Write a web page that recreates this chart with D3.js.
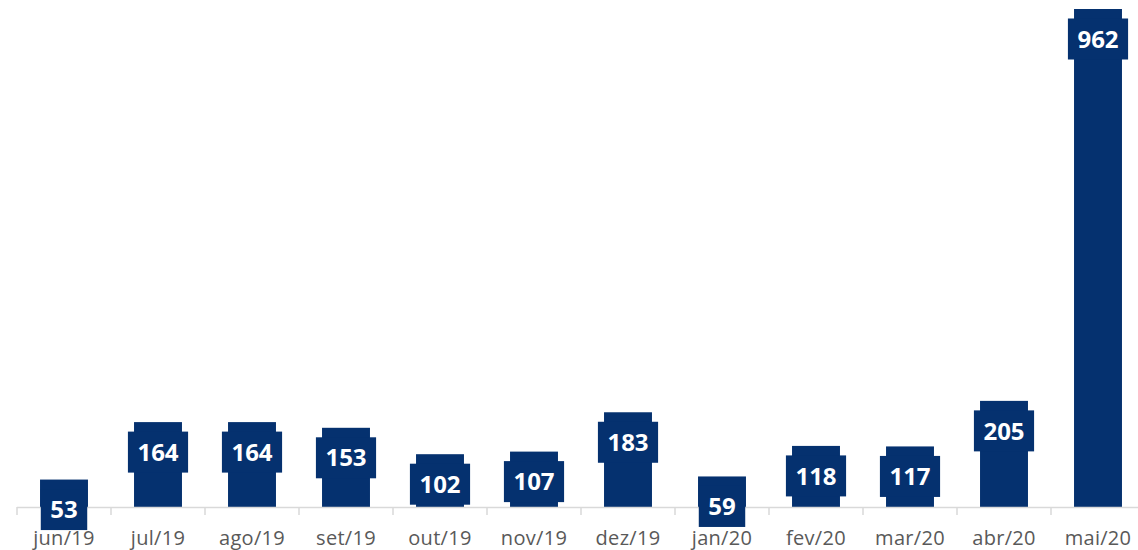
<!DOCTYPE html>
<html><head><meta charset="utf-8">
<script src="https://cdn.jsdelivr.net/npm/d3@7"></script>
<style>body{margin:0;background:#fff}svg{display:block}</style>
</head><body>
<script>
const categories = ["jun/19","jul/19","ago/19","set/19","out/19","nov/19","dez/19","jan/20","fev/20","mar/20","abr/20","mai/20"];
const values = [53,164,164,153,102,107,183,59,118,117,205,962];

const W = 1138, H = 550;
const svg = d3.select("body").append("svg").attr("width", W).attr("height", H);
const barColor = "#05316f";
const x = d3.scaleBand().domain(categories).range([17, 1145]).paddingInner(0.49).paddingOuter(0.245);
const y = d3.scaleLinear().domain([0, 962]).range([507, 9]);

// bars
svg.append("g").selectAll("rect").data(values).join("rect")
  .attr("x", (d,i) => x(categories[i]))
  .attr("y", d => y(d))
  .attr("width", x.bandwidth())
  .attr("height", d => y(0) - y(d))
  .attr("fill", barColor);

// axis
const axisG = svg.append("g");
axisG.append("line").attr("x1", 17).attr("x2", W).attr("y1", y(0)+0.5).attr("y2", y(0)+0.5)
  .attr("stroke", "#d9d9d9").attr("stroke-width", 1.5);
const off = (x.step() - x.bandwidth()) / 2;
axisG.selectAll("line.tick").data(categories).join("line").attr("class","tick")
  .attr("x1", d => x(d) - off).attr("x2", d => x(d) - off)
  .attr("y1", y(0)).attr("y2", y(0) + 8)
  .attr("stroke", "#d9d9d9").attr("stroke-width", 1.5);
axisG.selectAll("text").data(categories).join("text")
  .attr("x", d => x(d) + x.bandwidth()/2).attr("y", 545)
  .attr("text-anchor", "middle")
  .attr("font-family", "'Open Sans', sans-serif").attr("font-size", 20)
  .attr("letter-spacing", 0.3)
  .attr("fill", "#595959").text(d => d);

// labels
const lg = svg.append("g").selectAll("g").data(values).join("g")
  .attr("transform", (d,i) => `translate(${x(categories[i]) + x.bandwidth()/2},${y(d) + 30})`);
lg.each(function(d){
  const g = d3.select(this);
  const rect = g.append("rect").attr("fill", barColor);
  const t = g.append("text").attr("text-anchor","middle").attr("dy","0.36em")
    .attr("font-family","'Open Sans', sans-serif").attr("font-weight","bold")
    .attr("font-size", 24).attr("fill","#fff").text(d);
  const w = t.node().getComputedTextLength() + 19;
  rect.attr("x", -w/2).attr("y", -20.5).attr("width", w).attr("height", 41);
});
</script>
</body></html>
